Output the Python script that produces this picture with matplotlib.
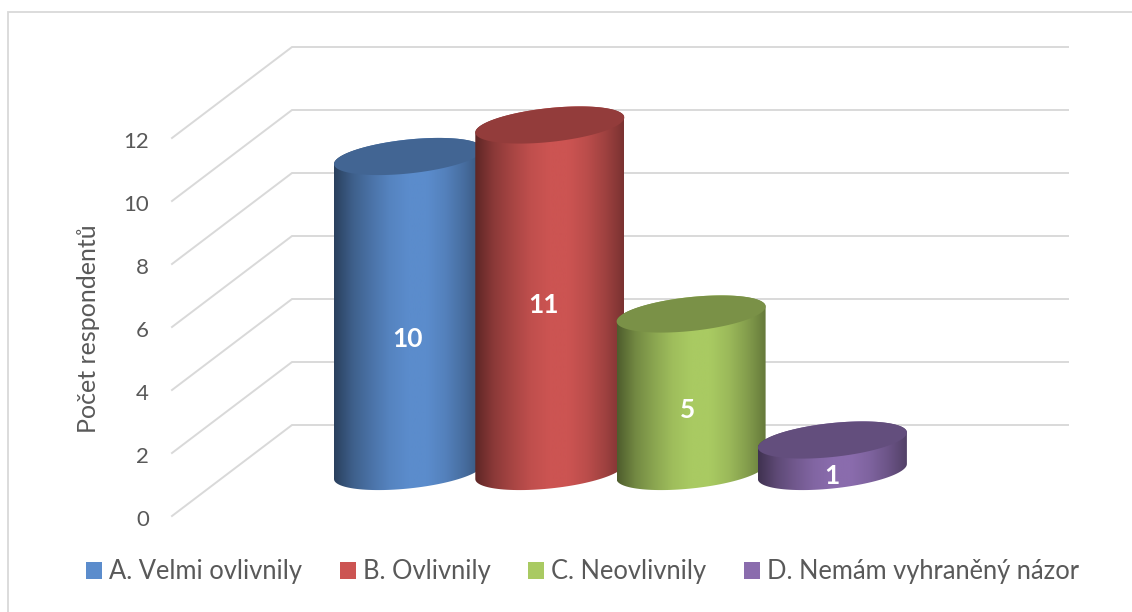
import matplotlib
matplotlib.use('Agg')
import matplotlib.pyplot as plt
import numpy as np
from matplotlib.colors import to_rgb
from matplotlib.lines import Line2D
from matplotlib.patches import Patch, PathPatch
from matplotlib.path import Path

plt.rcParams['font.family'] = ['Lato', 'DejaVu Sans']

categories = ['A. Velmi ovlivnily', 'B. Ovlivnily', 'C. Neovlivnily', 'D. Nemám vyhraněný názor']
values = [10, 11, 5, 1]
colors = ['#5b8ccc', '#cc5452', '#a9ca62', '#8a6cad']
y_ticks = [0, 2, 4, 6, 8, 10, 12]
# where the number sits on each cylinder: share of its height, sideways shift in px
label_pos = [0.42, 0.48, 0.39, -0.14]
label_dx = [-1, -6, -4, -1]

W, H = 1132, 612
grey = '#d9d9d9'
text_col = '#595959'

fig = plt.figure(figsize=(W / 100, H / 100), dpi=100)
ax = fig.add_axes([0, 0, 1, 1])

# y = value on the back wall, x = category number
px_unit = 31.5
px_cat = 141.3
zero_y = 425.0
first_x = 408.5
xlim = (-first_x / px_cat, (W - first_x) / px_cat)
ylim = (zero_y / px_unit - H / px_unit, zero_y / px_unit)
ax.axis('off')

# depth of the floor, and where the cylinders stand inside it
wall_left = (292 - first_x) / px_cat
wall_right = (1068 - first_x) / px_cat
front_left = (172 - first_x) / px_cat
front_drop = 91 / px_unit
base_drop = 46.5 / px_unit
half_w = 74.5 / px_cat
skew = 7.5 / px_unit
minor = 17.0 / px_unit

for t in y_ticks:
    ax.plot([front_left, wall_left, wall_right], [t - front_drop, t, t],
            color=grey, lw=1.4, solid_joinstyle='miter', zorder=1)
    ax.text(front_left - 23 / px_cat, t - front_drop - 4 / px_unit, str(t), ha='right', va='center',
            fontsize=16, color=text_col)

ax.text((88 - first_x) / px_cat, (zero_y - 328.5) / px_unit, 'Počet respondentů', rotation=90,
        ha='center', va='center', fontsize=18, color=text_col)

shade = np.array([0.46, 0.68, 0.82, 0.94, 1.0, 1.0, 0.92, 0.78, 0.6])
stops = np.linspace(0, 1, len(shade))


def ellipse(cx, cy, t):
    # right end of the rim sits higher than the left end
    return cx + half_w * np.cos(t), cy + minor * np.sin(t) + skew * np.cos(t)


for i, (val, col) in enumerate(zip(values, colors)):
    z = 2 + i
    base_y = -base_drop
    top_y = base_y + val
    rgb = np.array(to_rgb(col))

    # body: over the top rim left to right, then back under the bottom rim
    xt, yt = ellipse(i, top_y, np.linspace(np.pi, 0, 60))
    xb, yb = ellipse(i, base_y, np.linspace(0, -np.pi, 60))
    pts = np.column_stack([np.r_[xt, xb], np.r_[yt, yb]])
    body = PathPatch(Path(np.vstack([pts, pts[0]]), closed=True), fc='none', ec='none', zorder=z)
    ax.add_patch(body)

    grad = np.outer(np.interp(np.linspace(0, 1, 256), stops, shade), rgb)[None, :, :]
    im = ax.imshow(grad, extent=[i - half_w, i + half_w, base_y - 2, top_y + 2], aspect='auto',
                   origin='lower', zorder=z, interpolation='bilinear')
    im.set_clip_path(body)

    # lid
    xc, yc = ellipse(i, top_y, np.linspace(0, 2 * np.pi, 120))
    ax.fill(xc, yc, color=rgb * 0.72, lw=0, zorder=z + 0.1)

    ax.text(i + label_dx[i] / px_cat, base_y + val * label_pos[i], str(val), ha='center', va='center',
            color='white', fontsize=19, fontweight='bold', zorder=20)

ax.set_xlim(xlim)
ax.set_ylim(ylim)

handles = [Patch(facecolor=c, edgecolor='none', label=n) for n, c in zip(categories, colors)]
fig.legend(handles=handles, ncol=4, loc='center', bbox_to_anchor=(582.5 / W, 1 - 572 / H), frameon=False,
           fontsize=18.4, labelcolor=text_col, handlelength=0.626, handleheight=0.626, handletextpad=0.27,
           columnspacing=1.47, borderpad=0, borderaxespad=0)

# chart frame, only left and top are in the picture
fig.add_artist(Line2D([8 / W, 8 / W, 1], [0, 1 - 12 / H, 1 - 12 / H], transform=fig.transFigure,
                      color=grey, lw=1.3, solid_joinstyle='miter'))

fig.savefig('out.png', dpi=100)
